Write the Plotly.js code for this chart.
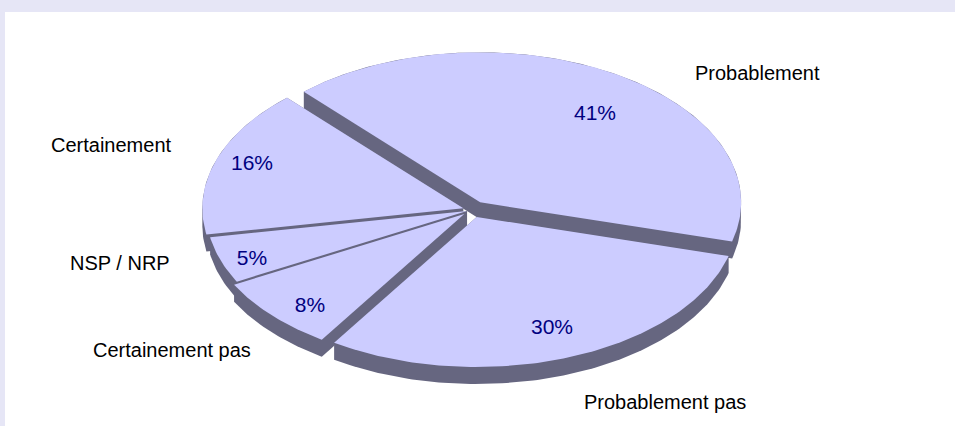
<!DOCTYPE html>
<html><head><meta charset="utf-8">
<script src="https://cdn.plot.ly/plotly-3.0.1.min.js"></script>
<style>html,body{margin:0;padding:0;background:#fff}#chart{width:955px;height:426px}</style>
</head><body><div id="chart"></div>
<script>
// ---- data ----
const categories = ["Probablement", "Probablement pas", "Certainement pas", "NSP / NRP", "Certainement"];
const values = [41, 30, 8, 5, 16];

// ---- style / layout config (not data) ----
const geo = {cx: 472, cy: 210, rx: 261, ry: 150, depth: 17, startDeg: 317.5};
const pull = [0.06, 0.05, 0.04, 0.02, 0.035];
const drawOrder = [0, 4, 3, 2, 1];
const catLabelPos = [[757, 73], [665, 402], [172, 350], [120, 263], [111, 145]];
const pctLabelPos = [[595, 115], [552, 329], [310, 307], [252, 260], [252, 165]];
const topColor = "#CCCCFF", sideColor = "#666680";
const FONT = "Liberation Sans, Arial, sans-serif";

const total = values.reduce((a, b) => a + b, 0);
const rad = d => d * Math.PI / 180;

function hull(pts) {
  const p = pts.slice().sort((a, b) => a[0] - b[0] || a[1] - b[1]);
  const cross = (o, a, b) => (a[0] - o[0]) * (b[1] - o[1]) - (a[1] - o[1]) * (b[0] - o[0]);
  const lower = [];
  for (const q of p) { while (lower.length >= 2 && cross(lower[lower.length - 2], lower[lower.length - 1], q) <= 0) lower.pop(); lower.push(q); }
  const upper = [];
  for (let i = p.length - 1; i >= 0; i--) { const q = p[i]; while (upper.length >= 2 && cross(upper[upper.length - 2], upper[upper.length - 1], q) <= 0) upper.pop(); upper.push(q); }
  upper.pop(); lower.pop();
  return lower.concat(upper);
}

// slice angles from values
const slices = [];
let acc = geo.startDeg;
values.forEach((v, i) => {
  const span = v / total * 360;
  const a0 = acc, a1 = acc + span, mid = acc + span / 2;
  acc = a1;
  const ox = pull[i] * Math.sin(rad(mid)) * geo.rx;
  const oy = -pull[i] * Math.cos(rad(mid)) * geo.ry;
  const cx = geo.cx + ox, cy = geo.cy + oy;
  const pts = [[cx, cy]];
  const n = Math.ceil(span) + 1;
  for (let k = 0; k <= n; k++) {
    const a = rad(a0 + (a1 - a0) * k / n);
    pts.push([cx + geo.rx * Math.sin(a), cy - geo.ry * Math.cos(a)]);
  }
  slices.push(pts);
});

const traces = [];
drawOrder.forEach(i => {
  const top = slices[i];
  const shifted = top.map(p => [p[0], p[1] + geo.depth]);
  const h = hull(top.concat(shifted));
  h.push(h[0]);
  traces.push({type: "scatter", mode: "lines", x: h.map(p => p[0]), y: h.map(p => p[1]),
    fill: "toself", fillcolor: sideColor, line: {width: 0, color: sideColor}, hoverinfo: "skip", name: categories[i] + " side"});
  const t = top.concat([top[0]]);
  traces.push({type: "scatter", mode: "lines", x: t.map(p => p[0]), y: t.map(p => p[1]),
    fill: "toself", fillcolor: topColor, line: {width: 0, color: topColor}, hoverinfo: "skip", name: categories[i]});
});

traces.push({type: "scatter", mode: "text",
  x: pctLabelPos.map(p => p[0]), y: pctLabelPos.map(p => p[1]),
  text: values.map(v => Math.round(v / total * 100) + "%"),
  textposition: "middle center", textfont: {family: FONT, size: 21, color: "#000080"}, hoverinfo: "skip"});

const annotations = categories.map((c, i) => ({
  x: catLabelPos[i][0], y: catLabelPos[i][1], xref: "x", yref: "y", text: c, showarrow: false,
  xanchor: "center", yanchor: "middle", font: {family: FONT, size: 20, color: "#000000"}
}));

const layout = {
  width: 955, height: 426,
  paper_bgcolor: "rgb(230,230,246)", plot_bgcolor: "#FFFFFF",
  margin: {l: 5, r: 0, t: 12, b: 0, pad: 0},
  showlegend: false,
  xaxis: {range: [5, 955], visible: false, fixedrange: true},
  yaxis: {range: [426, 12], visible: false, fixedrange: true},
  annotations: annotations
};
Plotly.newPlot("chart", traces, layout, {staticPlot: true, displayModeBar: false});
</script></body></html>
